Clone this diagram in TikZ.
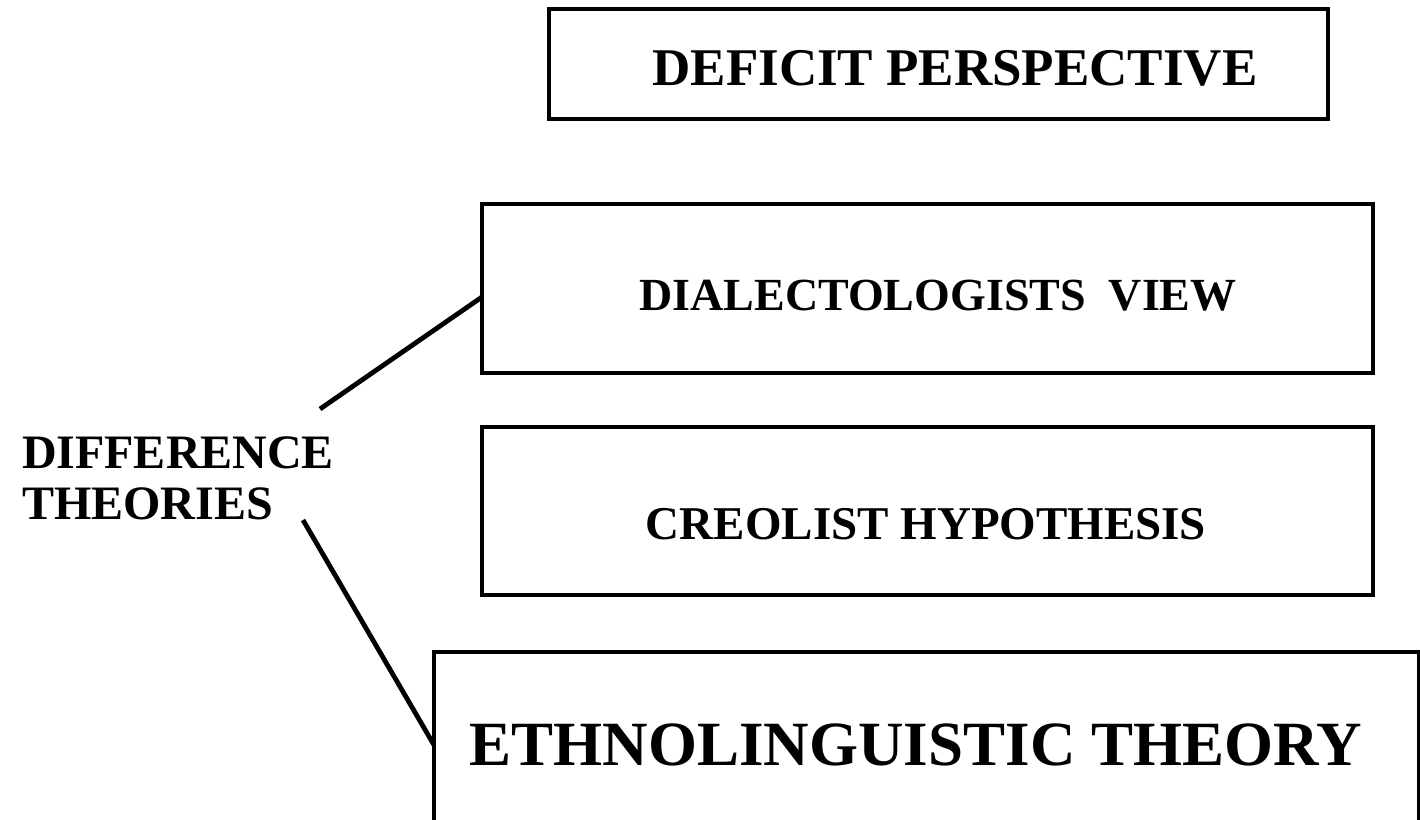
\documentclass[tikz,border=0pt]{standalone}
\usepackage{fontspec}
\setmainfont{Liberation Serif}
\begin{document}
\begin{tikzpicture}[x=1pt,y=-1pt,
  box/.style={draw=black,line width=4.5pt,rectangle,inner sep=0pt,outer sep=0pt,fill=white},
  lbl/.style={inner sep=0pt,outer sep=0pt,font=\bfseries},
  conn/.style={draw=black,line width=4.8pt}]
\useasboundingbox (0,0) rectangle (1420,819);
\clip (0,0) rectangle (1420,819);
\fill[white] (0,0) rectangle (1420,819);
% boxes
\node[box,minimum width=779pt,minimum height=110pt] (box1) at (938.5,64) {};
\node[box,minimum width=891pt,minimum height=169pt] (box2) at (927.5,288.5) {};
\node[box,minimum width=891pt,minimum height=168pt] (box3) at (927.5,511) {};
\node[box,minimum width=985pt,minimum height=186pt] (box4) at (926.5,745) {};
% texts
\node[lbl,anchor=base,font=\bfseries\fontsize{53}{60}\selectfont] (t1) at (955,85) {DEFICIT PERSPECTIVE};
\node[lbl,anchor=base,font=\bfseries\fontsize{46}{52}\selectfont] (t2) at (938,310) {DIALECTOLOGISTS\ \ VIEW};
\node[lbl,anchor=base,font=\bfseries\fontsize{47}{52}\selectfont] (t3) at (926,539) {CREOLIST HYPOTHESIS};
\node[lbl,anchor=base,font=\bfseries\fontsize{63}{70}\selectfont] (t4) at (916,765) {ETHNOLINGUISTIC THEORY};
\node[lbl,anchor=base west,align=left,font=\bfseries\fontsize{48}{51}\selectfont] (diff) at (22,519) {DIFFERENCE\\THEORIES};
% connectors
\coordinate (d1) at (320,409);
\coordinate (d2) at (303,520);
\draw[conn] (d1) -- ([yshift=-8.5pt]box2.west);
\draw[conn] (d2) -- (box4.west);
\end{tikzpicture}
\end{document}
